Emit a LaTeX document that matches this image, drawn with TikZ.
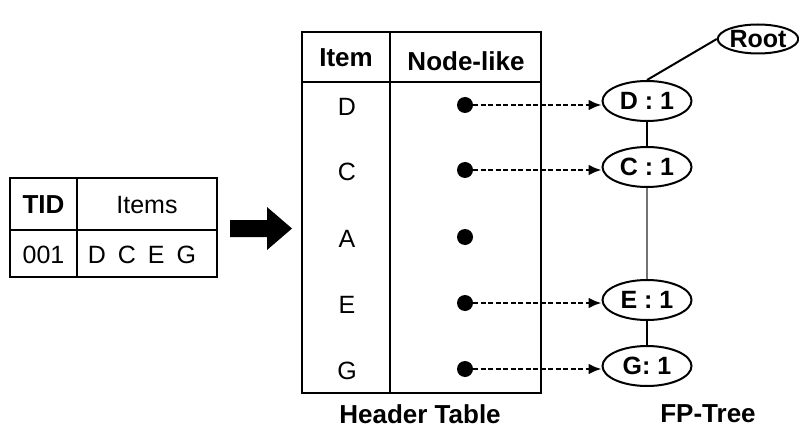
\documentclass[tikz,border=0pt]{standalone}
\usepackage{fontspec}
\setmainfont{Liberation Sans}
\usetikzlibrary{arrows.meta,positioning,shapes.geometric}
\tikzset{basic/.style={draw,fill=none,line width=2pt}}
\tikzset{fpnode/.style={basic,ellipse,inner sep=0pt,
                        minimum width=89pt,minimum height=40pt,
                        font=\fontsize{25}{27}\selectfont\bfseries}}

\begin{document}
\begin{tikzpicture}[x=1pt,y=-1pt,>={Latex[length=13pt,width=11pt]},
    % styles for clarity
    head/.style  ={font=\fontsize{26}{28}\selectfont\bfseries},
    entry/.style ={font=\fontsize{25}{28}\selectfont},
    dot/.style   ={circle, fill=black, inner sep=0pt, minimum size=16pt},
    link/.style  ={->, line width=2.4pt, dash pattern=on 5pt off 2.5pt},
    branch/.style={line width=2pt}
  ]
    \useasboundingbox (0,0) rectangle (799,430);

    % transaction table
    \draw[basic] (10,178) rectangle (217,277);
    \draw[basic] (77,178) -- (77,277);
    \draw[basic] (10,230) -- (217,230);
    \node[head](tid) at (43.5,205) {TID};
    \node[entry](items) at (147,205) {Items};
    \node[entry](tidval) at (43.5,255) {001};
    \node[entry](itemsval) at (142,255) {\spaceskip=12pt\relax D C E G};

    % big arrow
    \fill (230,220) -- (267,220) -- (267,207) -- (292,228.5)
          -- (267,250) -- (267,237) -- (230,237) -- cycle;

    % header table
    \draw[basic] (302,32) rectangle (541,393);
    \draw[basic] (390,32) -- (390,393);
    \draw[basic] (302,82) -- (541,82);
    \node[head](item) at (346,58) {Item};
    \node[head](nodelike) at (466,61) {Node-like};
    \foreach \name/\y in {D/105,C/170,A/237,E/303,G/369}{
      \node[entry](it\name) at (347,\y+2) {\name};
      \node[dot](dot\name) at (465,\y) {};
    }
    \node[head](htable) at (420,414) {Header Table};

    % fp-tree
    \node[fpnode,minimum width=80pt,minimum height=29pt](root) at (758,39) {Root};
    \node[fpnode](fpD) at (647,101) {D : 1};
    \node[fpnode](fpC) at (647,167) {C : 1};
    \node[fpnode](fpE) at (647,300) {E : 1};
    \node[fpnode](fpG) at (647,366) {G: 1};
    \node[head](fptree) at (708,414) {FP-Tree};

    \draw[branch] (root.west) -- (fpD.north);
    \draw[branch] (fpD) -- (fpC);
    \draw[branch,line width=2.6pt,black!55] (fpC) -- (fpE);
    \draw[branch] (fpE) -- (fpG);

    \foreach \name in {D,C,E,G}
      \draw[link] (dot\name) -- (dot\name -| fp\name.west);
  \end{tikzpicture}
\end{document}
